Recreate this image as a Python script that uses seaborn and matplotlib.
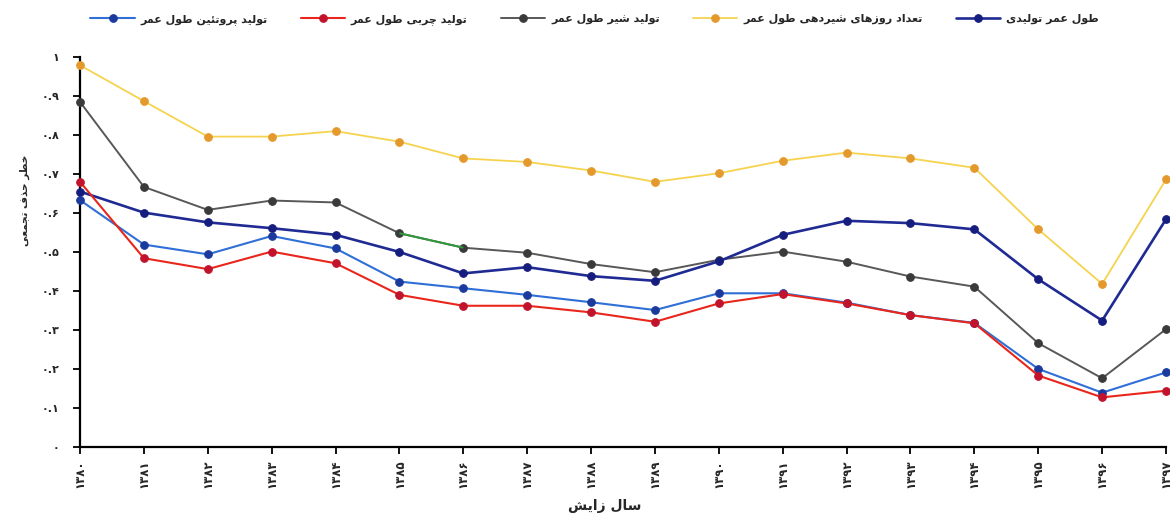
import matplotlib
matplotlib.use("Agg")
import matplotlib.pyplot as plt
import seaborn as sns
import pandas as pd

# ---- data -------------------------------------------------------------
years = list(range(1380, 1398))
year_labels = ['۱۳۸۰', '۱۳۸۱', '۱۳۸۲', '۱۳۸۳', '۱۳۸۴', '۱۳۸۵', '۱۳۸۶', '۱۳۸۷', '۱۳۸۸',
               '۱۳۸۹', '۱۳۹۰', '۱۳۹۱', '۱۳۹۲', '۱۳۹۳', '۱۳۹۴', '۱۳۹۵', '۱۳۹۶', '۱۳۹۷']
y_ticks = [0.0, 0.1, 0.2, 0.3, 0.4, 0.5, 0.6, 0.7, 0.8, 0.9, 1.0]
y_tick_labels = ['۰', '۰.۱', '۰.۲', '۰.۳', '۰.۴', '۰.۵', '۰.۶', '۰.۷', '۰.۸', '۰.۹', '۱']

protein = [0.633, 0.519, 0.494, 0.541, 0.509, 0.424, 0.407, 0.390, 0.371, 0.351,
           0.394, 0.394, 0.370, 0.338, 0.318, 0.200, 0.139, 0.191]
fat = [0.680, 0.484, 0.456, 0.501, 0.471, 0.390, 0.362, 0.362, 0.345, 0.321,
       0.368, 0.392, 0.368, 0.338, 0.317, 0.183, 0.127, 0.144]
milk = [0.885, 0.667, 0.608, 0.632, 0.627, 0.548, 0.511, 0.498, 0.469, 0.448,
        0.480, 0.501, 0.475, 0.437, 0.411, 0.266, 0.176, 0.302]
milking_days = [0.979, 0.887, 0.796, 0.796, 0.810, 0.783, 0.740, 0.731, 0.709, 0.680,
                0.702, 0.734, 0.755, 0.740, 0.716, 0.558, 0.418, 0.686]
productive_life = [0.655, 0.601, 0.576, 0.561, 0.544, 0.500, 0.445, 0.461, 0.438, 0.426,
                   0.476, 0.544, 0.580, 0.574, 0.558, 0.430, 0.324, 0.584]

name_protein = 'تولید پروتئین طول عمر'
name_fat = 'تولید چربی طول عمر'
name_milk = 'تولید شیر طول عمر'
name_days = 'تعداد روزهای شیردهی طول عمر'
name_life = 'طول عمر تولیدی'
x_title = 'سال زایش'
y_title = 'خطر حذف تجمعی'

# ---- Persian text shaping (contextual forms + right-to-left order) ----
FORMS = {
    'ا': ('\uFE8D', '\uFE8E', None, None),
    'ب': ('\uFE8F', '\uFE90', '\uFE91', '\uFE92'),
    'پ': ('\uFB56', '\uFB57', '\uFB58', '\uFB59'),
    'ت': ('\uFE95', '\uFE96', '\uFE97', '\uFE98'),
    'ج': ('\uFE9D', '\uFE9E', '\uFE9F', '\uFEA0'),
    'چ': ('\uFB7A', '\uFB7B', '\uFB7C', '\uFB7D'),
    'ح': ('\uFEA1', '\uFEA2', '\uFEA3', '\uFEA4'),
    'خ': ('\uFEA5', '\uFEA6', '\uFEA7', '\uFEA8'),
    'د': ('\uFEA9', '\uFEAA', None, None),
    'ذ': ('\uFEAB', '\uFEAC', None, None),
    'ر': ('\uFEAD', '\uFEAE', None, None),
    'ز': ('\uFEAF', '\uFEB0', None, None),
    'س': ('\uFEB1', '\uFEB2', '\uFEB3', '\uFEB4'),
    'ش': ('\uFEB5', '\uFEB6', '\uFEB7', '\uFEB8'),
    'ط': ('\uFEC1', '\uFEC2', '\uFEC3', '\uFEC4'),
    'ع': ('\uFEC9', '\uFECA', '\uFECB', '\uFECC'),
    'ف': ('\uFED1', '\uFED2', '\uFED3', '\uFED4'),
    'ل': ('\uFEDD', '\uFEDE', '\uFEDF', '\uFEE0'),
    'م': ('\uFEE1', '\uFEE2', '\uFEE3', '\uFEE4'),
    'ن': ('\uFEE5', '\uFEE6', '\uFEE7', '\uFEE8'),
    'ه': ('\uFEE9', '\uFEEA', '\uFEEB', '\uFEEC'),
    'و': ('\uFEED', '\uFEEE', None, None),
    'ی': ('\uFBFC', '\uFBFD', '\uFBFE', '\uFBFF'),
    'ئ': ('\uFE89', '\uFE8A', '\uFE8B', '\uFE8C'),
}


def fa(text):
    out = []
    for i, ch in enumerate(text):
        if ch not in FORMS:
            out.append(ch)
            continue
        prev = text[i - 1] if i > 0 else None
        nxt = text[i + 1] if i + 1 < len(text) else None
        iso, fin, ini, med = FORMS[ch]
        join_prev = prev in FORMS and FORMS[prev][2] is not None
        join_next = ini is not None and nxt in FORMS
        if join_prev and join_next:
            out.append(med)
        elif join_prev:
            out.append(fin)
        elif join_next:
            out.append(ini)
        else:
            out.append(iso)
    return ''.join(reversed(out))


# ---- style ------------------------------------------------------------
sns.set_style("white")
plt.rcParams['font.family'] = ['DejaVu Sans']
plt.rcParams['font.weight'] = 'bold'

df = pd.DataFrame({
    'year': years,
    'protein': protein,
    'fat': fat,
    'milk': milk,
    'days': milking_days,
    'life': productive_life,
})

fig = plt.figure(figsize=(11.7, 5.19), dpi=100)
ax = fig.add_axes([0.0684, 0.139, 0.9282, 0.751])

series = [
    # column, label, line colour, marker colour, line width, zorder
    ('days', name_days, '#f6d34e', '#e4992c', 1.3, 3),
    ('milk', name_milk, '#585858', '#3a3a3a', 1.4, 4),
    ('life', name_life, '#1f2a93', '#151d7e', 1.9, 5),
    ('protein', name_protein, '#2f6fd6', '#1b3a9e', 1.5, 6),
    ('fat', name_fat, '#e8261c', '#c2132c', 1.5, 7),
]

for col, label, lc, mc, lw, z in series:
    sns.lineplot(data=df, x='year', y=col, ax=ax, color=lc, linewidth=lw,
                 marker='o', markersize=5.5, markerfacecolor=mc, markeredgecolor=mc,
                 label=fa(label), clip_on=False, zorder=z)

# one segment of the milk line is drawn in green
seg = df[(df['year'] >= 1385) & (df['year'] <= 1386)]
ax.plot(seg['year'], seg['milk'], color='#2e9a3a', linewidth=1.4, zorder=4.5,
        solid_capstyle='butt')

ax.set_xlim(1380, 1397)
ax.set_ylim(0, 1)
ax.set_xticks(years)
ax.set_xticklabels(year_labels, rotation=90, fontsize=8.5, fontweight='bold')
ax.set_yticks(y_ticks)
ax.set_yticklabels(y_tick_labels, fontsize=8, fontweight='bold')

for side in ['top', 'right']:
    ax.spines[side].set_visible(False)
for side in ['left', 'bottom']:
    ax.spines[side].set_color('black')
    ax.spines[side].set_linewidth(1.6)
ax.tick_params(axis='both', which='major', direction='out', length=5, width=1.3,
               color='black', left=True, bottom=True)
ax.tick_params(axis='y', pad=10)
ax.tick_params(axis='x', pad=4)

ax.set_xlabel(fa(x_title), fontsize=10, fontweight='bold')
ax.set_ylabel(fa(y_title), fontsize=7.5, fontweight='bold')
ax.xaxis.set_label_coords(0.483, -0.135)
ax.yaxis.set_label_coords(-0.046, 0.633)

# legend across the top, in the order protein, fat, milk, days, life
handles, labels = ax.get_legend_handles_labels()
order = [fa(name_protein), fa(name_fat), fa(name_milk), fa(name_days), fa(name_life)]
hmap = dict(zip(labels, handles))
ax.get_legend().remove()
fig.legend([hmap[l] for l in order], order, loc='center', ncol=5,
           bbox_to_anchor=(0.508, 0.963), frameon=False,
           handlelength=4.0, columnspacing=3.0, handletextpad=0.5,
           prop={'weight': 'bold', 'size': 8})

fig.savefig('out.png', dpi=100, facecolor='white')
